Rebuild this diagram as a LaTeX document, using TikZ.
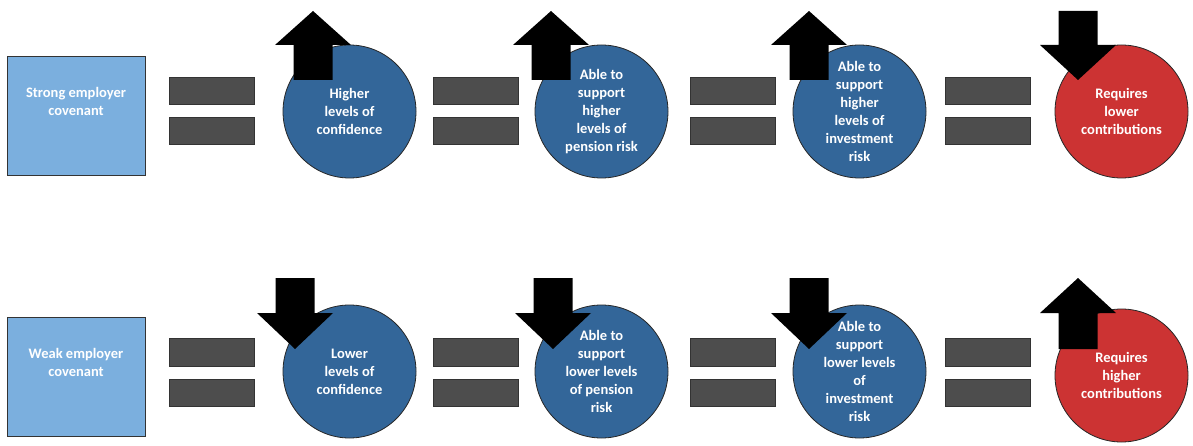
\documentclass[tikz,border=0pt]{standalone}
\usepackage{fontspec}
\setmainfont{Carlito}
\definecolor{boxblue}{HTML}{7BAFDE}
\definecolor{circblue}{HTML}{336699}
\definecolor{circred}{HTML}{CC3333}
\definecolor{bargrey}{HTML}{4D4D4D}
\begin{document}
\begin{tikzpicture}[x=1pt, y=-1pt,
    covbox/.style={draw=black!80, line width=0.8pt, fill=boxblue,
        minimum width=138pt, minimum height=119pt},
    covtext/.style={text=white, align=center,
        font=\bfseries\fontsize{14.5}{18}\selectfont},
    effect/.style={circle, draw=black!85, line width=0.8pt, fill=circblue,
        minimum size=133pt, inner sep=0pt, text=white, align=center,
        font=\bfseries\fontsize{14.5}{18}\selectfont},
    result/.style={effect, fill=circred},
    eqbar/.style={draw=black!80, line width=1pt, fill=bargrey}]
    \useasboundingbox (0,0) rectangle (1193,446);
    % strong covenant
    \node (strong) [covbox] at (76,115.5) {};
    \node (strongtext) [covtext] at ([yshift=14.5pt]strong.center) {Strong employer\\covenant};
    \node (hiconf) [effect] at (349.5,111.5) {Higher\\levels of\\confidence};
    \node (hipension) [effect] at (601.5,111.5) {Able to\\support\\higher\\levels of\\pension risk};
    \node (hiinvest) [effect] at (859.5,111.5) {Able to\\support\\higher\\levels of\\investment\\risk};
    \node (lowcontrib) [result] at (1121.5,111.5) {Requires\\lower\\contributions};
    % weak covenant
    \node (weak) [covbox] at (76,376.5) {};
    \node (weaktext) [covtext] at ([yshift=14.5pt]weak.center) {Weak employer\\covenant};
    \node (loconf) [effect] at (349.5,371.5) {Lower\\levels of\\confidence};
    \node (lopension) [effect] at (601.5,371.5) {Able to\\support\\lower levels\\of pension\\risk};
    \node (loinvest) [effect] at (859.5,371.5) {Able to\\support\\lower levels\\of\\investment\\risk};
    \node (hicontrib) [result] at (1121.5,375.5) {Requires\\higher\\contributions};
    % equals signs
    \foreach \x in {169,433,690,945} {
        \draw[eqbar] (\x,78) rectangle ++(85,27);
        \draw[eqbar] (\x,118) rectangle ++(85,27);
        \draw[eqbar] (\x,338) rectangle ++(85,28);
        \draw[eqbar] (\x,379) rectangle ++(85,27);
    }
    % up and down arrows
    \foreach \x in {313,551,809}
        \fill (\x,11) -- ++(38,34) -- ++(-18.5,0) -- ++(0,35) -- ++(-39,0)
            -- ++(0,-35) -- ++(-18.5,0) -- cycle;
    \fill (1078,80) -- ++(38,-35) -- ++(-18.5,0) -- ++(0,-34) -- ++(-39,0)
        -- ++(0,34) -- ++(-18.5,0) -- cycle;
    \foreach \x in {295,553,809}
        \fill (\x,349) -- ++(38,-36) -- ++(-18.5,0) -- ++(0,-35) -- ++(-39,0)
            -- ++(0,35) -- ++(-18.5,0) -- cycle;
    \fill (1078,278) -- ++(38,35) -- ++(-18.5,0) -- ++(0,36) -- ++(-39,0)
        -- ++(0,-36) -- ++(-18.5,0) -- cycle;
\end{tikzpicture}
\end{document}
